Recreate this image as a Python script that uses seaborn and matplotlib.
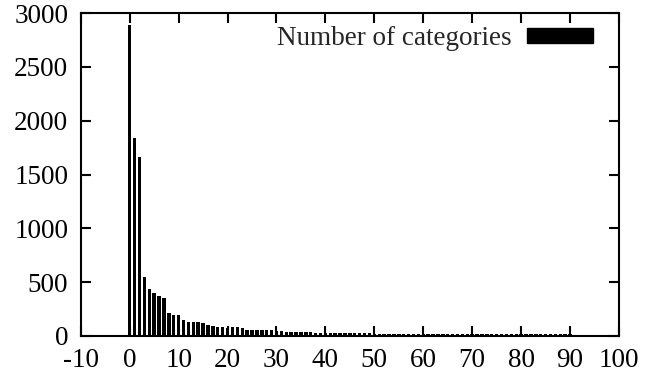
import numpy as np
import pandas as pd
import matplotlib
matplotlib.use("Agg")
import matplotlib.pyplot as plt
import seaborn as sns
from matplotlib.patches import Patch

# Data
sizes = list(range(0, 91))
counts = [2890, 1836, 1660, 545, 436, 402, 374, 356, 217, 195,
          195, 149, 133, 127, 130, 121, 99, 93, 87, 81,
          74, 81, 81, 74, 59, 56, 56, 56, 56, 56,
          46, 46, 40, 40, 40, 38, 36, 34, 32, 32,
          30, 29, 28, 27, 27, 26, 25, 25, 24, 24,
          23, 23, 22, 22, 22, 21, 21, 21, 20, 20,
          20, 20, 19, 19, 19, 19, 19, 18, 18, 18,
          18, 18, 18, 17, 17, 17, 17, 17, 17, 17,
          17, 16, 16, 16, 16, 16, 16, 16, 16, 16, 16]
series_label = "Number of categories"
xticks = list(range(-10, 101, 10))
yticks = list(range(0, 3001, 500))

sns.set_style("ticks")
plt.rcParams["font.family"] = ["Liberation Serif", "DejaVu Serif"]

df = pd.DataFrame({"size": sizes, "count": counts})

fig = plt.figure(figsize=(6.62, 3.79), dpi=100)
ax = fig.add_axes([0.122, 0.1135, 0.813, 0.852])

sns.barplot(data=df, x="size", y="count", native_scale=True, width=0.7,
            color="black", edgecolor="none", linewidth=0, saturation=1, ax=ax,
            errorbar=None)

ax.set_xlim(-10, 100)
ax.set_ylim(0, 3000)
ax.set_xticks(xticks)
ax.set_yticks(yticks)
ax.set_xticklabels([str(t) for t in xticks])
ax.set_yticklabels([str(t) for t in yticks])
ax.set_xlabel("")
ax.set_ylabel("")

for s in ax.spines.values():
    s.set_visible(True)
    s.set_linewidth(1.5)
    s.set_color("black")

ax.tick_params(axis="both", which="major", direction="in", length=7,
               width=1.5, colors="black", labelsize=19.5, top=True, right=True,
               pad=9)

handle = Patch(facecolor="black", edgecolor="black")
leg = ax.legend([handle], [series_label], loc="upper right",
                bbox_to_anchor=(0.967, 0.985), frameon=False, markerfirst=False,
                handlelength=2.45, handleheight=0.45, handletextpad=0.55,
                fontsize=19.5, borderaxespad=0, borderpad=0.3)

fig.savefig("out.png", dpi=100)
